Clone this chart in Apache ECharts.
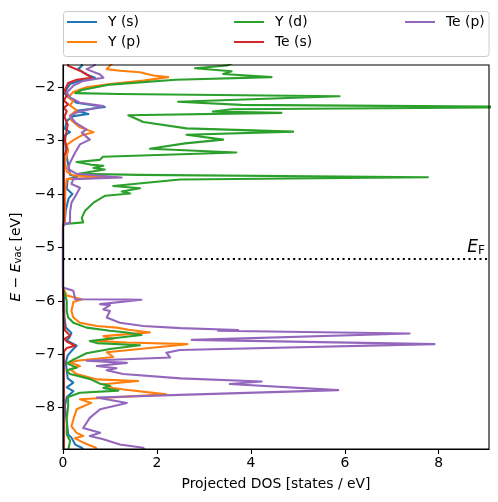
<!DOCTYPE html>
<html><head><meta charset="utf-8">
<script src="https://cdn.jsdelivr.net/npm/echarts@6/dist/echarts.min.js"></script>
<style>html,body{margin:0;padding:0;background:#fff}#c{width:498px;height:502px}</style>
</head><body><div id="c"></div>
<script>
const seriesNames = ['Y (s)', 'Y (p)', 'Y (d)', 'Te (s)', 'Te (p)'];
const xTicks = [0, 2, 4, 6, 8];
const yTicks = [-8, -7, -6, -5, -4, -3, -2];
const fermiLevel = -5.21;

// Y (s)
const ysE = [-1.55,-1.60,-1.66,-1.76,-1.82,-1.88,-1.94,-2.03,-2.12,-2.21,-2.29,-2.37,-2.44,-2.50,-2.54,-2.63,-2.78,-2.84,-2.90,-3.20,-3.40,-3.64,-3.68,-3.72,-3.90,-4.00,-4.08,-4.30,-4.56,-4.60,
  -5.75,-5.90,-6.30,-6.50,-6.60,-6.68,-6.74,-6.84,-6.92,-7.02,-7.15,-7.30,-7.45,-7.53,-7.62,-7.69,-7.80,-7.97,-8.25,-8.50,-8.56,-8.69,-8.75,-8.80];
const ysD = [0.40,0.40,0.32,0.50,0.68,0.36,0.15,0.08,0.04,0.15,0.29,0.89,0.29,0.54,0.22,0.08,0.04,0.15,0.04,0.06,0.10,0.15,0.30,0.10,0.08,0.20,0.12,0.06,0.03,0,
  0,0.02,0.03,0.06,0.18,0.14,0.08,0.29,0.20,0.10,0.06,0.08,0.10,0.22,0.08,0.22,0.08,0.04,0.08,0.11,0.18,0.26,0.40,0.45];

// Y (p)
const ypE = [-1.55,-1.594,-1.66,-1.69,-1.72,-1.78,-1.81,-1.875,-1.94,-2.00,-2.09,-2.19,-2.25,-2.34,-2.43,-2.53,-2.62,-2.75,-2.84,-2.90,-2.99,-3.08,-3.18,-3.40,-3.58,-3.65,-3.68,-3.72,-3.90,-4.30,-4.56,-4.60,
  -5.75,-5.90,-5.97,-6.02,-6.19,-6.31,-6.41,-6.47,-6.50,-6.54,-6.59,-6.66,-6.71,-6.75,-6.78,-6.81,-6.96,-7.05,-7.12,-7.16,-7.22,-7.28,-7.37,-7.47,-7.50,-7.56,-7.63,-7.66,-7.75,-7.84,-7.91,-8.03,-8.22,-8.35,-8.47,-8.53,-8.57,-8.62,-8.68,-8.75,-8.80];
const ypD = [1.05,1.00,0.93,1.21,1.64,1.92,2.24,1.71,1.00,0.50,0.22,0.11,0.22,0.15,0.29,0.15,0.18,0.36,0.65,0.40,0.22,0.08,0.11,0.04,0.08,0.22,1.00,0.08,0.05,0.04,0.03,0,
  0,0.08,0.40,0.22,0.18,0.22,0.36,0.72,1.14,1.40,1.85,0.86,1.07,0.72,1.36,2.65,0.93,1.07,0.29,0.15,0.36,0.15,0.29,0.72,1.60,0.86,1.07,1.30,2.20,0.36,0.60,0.29,0.22,0.18,0.29,0.43,0.25,0.36,0.50,0.70,0.72];

// Y (d)
const ydE = [-1.55,-1.594,-1.644,-1.70,-1.75,-1.81,-1.86,-1.95,-2.05,-2.11,-2.125,-2.168,-2.27,-2.33,-2.37,-2.41,-2.455,-2.48,-2.524,-2.65,-2.77,-2.83,-2.89,-2.98,-3.05,-3.15,-3.22,-3.30,-3.36,-3.40,-3.45,-3.47,-3.51,-3.54,-3.62,-3.64,-3.685,-3.727,-3.85,-3.89,-3.95,-3.99,-4.03,-4.16,-4.31,-4.44,-4.53,-4.56,-4.60,
  -5.75,-5.85,-6.00,-6.19,-6.31,-6.41,-6.50,-6.56,-6.59,-6.64,-6.75,-6.79,-6.83,-6.90,-6.98,-7.10,-7.17,-7.25,-7.30,-7.37,-7.46,-7.55,-7.59,-7.63,-7.68,-7.72,-7.80,-7.97,-8.20,-8.50,-8.62,-8.80];
const ydD = [3.60,3.49,2.81,3.59,3.41,4.44,2.40,1.00,0.40,0.26,1.20,5.89,2.45,3.80,10.5,3.60,3.19,4.65,1.39,1.71,2.63,4.90,2.63,3.41,2.60,1.85,3.69,0.85,0.78,0.29,0.61,0.86,0.65,0.89,0.33,1.60,7.77,2.49,1.07,1.64,1.25,1.43,0.90,0.65,0.47,0.40,0.43,0.04,0,
  0,0.03,0.08,0.08,0.11,0.22,0.50,1.00,1.36,1.67,0.57,0.72,1.64,1.00,0.50,0.22,0.08,0.29,0.08,0.15,0.57,0.79,1.00,0.86,1.18,0.36,0.11,0.11,0.08,0.08,0.15,0.11];

// Te (s)
const tsE = [-1.55,-1.60,-1.69,-1.76,-1.82,-1.86,-1.92,-2.05,-2.15,-2.25,-2.32,-2.38,-2.45,-2.55,-2.70,-3.00,-3.15,-3.30,-4.50,-4.60,
  -5.75,-6.40,-6.55,-6.65,-6.71,-6.76,-6.84,-6.88,-6.95,-7.20,-8.80];
const tsD = [0.11,0.11,0.36,0.50,0.61,0.29,0.11,0.04,0.08,0.02,0.11,0.02,0.08,0.03,0.10,0.04,0.08,0.02,0.02,0,
  0,0.02,0.04,0.15,0.03,0.08,0.26,0.08,0.02,0.02,0.02];

// Te (p)
const tpE = [-1.55,-1.60,-1.66,-1.76,-1.82,-1.88,-1.97,-2.10,-2.19,-2.29,-2.35,-2.41,-2.47,-2.54,-2.66,-2.79,-2.85,-2.98,-3.07,-3.22,-3.41,-3.53,-3.62,-3.69,-3.72,-3.81,-3.88,-4.00,-4.16,-4.34,-4.53,-4.56,-4.60,
  -5.75,-5.78,-5.81,-5.97,-5.975,-5.98,-6.06,-6.08,-6.16,-6.19,-6.31,-6.41,-6.47,-6.51,-6.545,-6.56,-6.61,-6.73,-6.81,-6.92,-6.97,-7.06,-7.12,-7.16,-7.22,-7.26,-7.30,-7.37,-7.45,-7.51,-7.556,-7.67,-7.76,-7.81,-7.91,-8.03,-8.19,-8.38,-8.47,-8.53,-8.59,-8.69,-8.75,-8.80];
const tpD = [0.70,0.65,0.50,0.79,0.86,0.43,0.22,0.08,0.15,0.36,0.86,0.57,0.29,0.15,0.26,0.50,0.40,0.57,0.36,0.26,0.15,0.11,0.29,1.25,0.22,0.18,0.36,0.29,0.18,0.15,0.15,0.04,0,
  0,0.04,0.22,0.26,1.28,1.67,0.79,1.00,0.86,1.00,0.93,1.21,1.71,2.50,3.73,3.30,7.38,2.74,7.91,2.49,2.20,2.28,0.50,1.36,0.72,1.14,0.93,1.28,2.50,4.23,3.55,5.86,2.49,0.72,1.36,0.79,0.57,0.43,0.79,0.57,0.86,1.21,1.71,1.75];

const colors = ['#1f77b4', '#ff7f0e', '#2ca02c', '#d62728', '#9467bd'];
const FONT = 'DejaVu Sans';
const LW = 2.08;

function zip(dos, en) {
  const n = Math.min(dos.length, en.length);
  const out = [];
  for (let i = 0; i < n; i++) out.push([dos[i], en[i]]);
  return out;
}
const allData = [zip(ysD, ysE), zip(ypD, ypE), zip(ydD, ydE), zip(tsD, tsE), zip(tpD, tpE)];

const minus = v => String(v).replace('-', '\u2212');

const series = seriesNames.map((name, i) => ({
  name: name,
  type: 'line',
  data: allData[i],
  showSymbol: false,
  symbol: 'none',
  smooth: false,
  clip: true,
  lineStyle: { width: LW, color: colors[i], join: 'round', cap: 'butt' },
  itemStyle: { color: colors[i] },
  emphasis: { disabled: true },
  z: 2 + i
}));
series[4].markLine = {
  silent: true,
  symbol: ['none', 'none'],
  lineStyle: { color: '#000', type: [2.08, 3.4], width: LW },
  label: {
    show: true,
    position: 'insideEndTop',
    distance: [4, 2],
    formatter: '{e|E}{f|F}',
    rich: {
      e: { fontFamily: FONT, fontStyle: 'italic', fontSize: 17, color: '#000' },
      f: { fontFamily: FONT, fontSize: 12, color: '#000', verticalAlign: 'bottom', padding: [6, 0, 0, 0] }
    }
  },
  data: [{ yAxis: fermiLevel }]
};

const legendCols = [['Y (s)', 'Y (p)'], ['Y (d)', 'Te (s)'], ['Te (p)']];
const legendLeft = [67, 234, 405];
const legends = legendCols.map((d, i) => ({
  data: d,
  orient: 'vertical',
  left: legendLeft[i],
  top: 14,
  padding: 0,
  itemGap: 4,
  itemWidth: 30,
  itemHeight: 2,
  icon: 'rect',
  selectedMode: false,
  textStyle: { fontFamily: FONT, fontSize: 13.9, color: '#000', lineHeight: 16, padding: [0, 0, 0, 6] }
}));

const chart = echarts.init(document.getElementById('c'), null, { renderer: 'canvas' });
chart.setOption({
  animation: false,
  backgroundColor: '#fff',
  color: colors,
  grid: { left: 63, right: 9, top: 65, bottom: 53, show: true, borderColor: '#000', borderWidth: 1.1, z: 10 },
  legend: legends,
  graphic: [{
    type: 'rect', z: 0, left: 63, top: 11,
    shape: { width: 425.5, height: 45, r: 3 },
    style: { fill: 'rgba(255,255,255,0.8)', stroke: '#cccccc', lineWidth: 1 }
  }],
  xAxis: {
    type: 'value', min: 0, max: 9.07,
    name: 'Projected DOS [states / eV]',
    nameLocation: 'middle', nameGap: 28,
    nameTextStyle: { fontFamily: FONT, fontSize: 13.9, color: '#000' },
    axisLine: { show: true, onZero: false, lineStyle: { color: '#000', width: 1.1 } },
    axisTick: { show: true, inside: false, length: 5, customValues: xTicks, lineStyle: { color: '#000', width: 1.1 } },
    axisLabel: { customValues: xTicks, margin: 7, fontFamily: FONT, fontSize: 13.9, color: '#000' },
    splitLine: { show: false },
    z: 10
  },
  yAxis: {
    type: 'value', min: -8.773, max: -1.583,
    name: '{i|E} \u2212 {i|E}{s|vac} [eV]',
    nameLocation: 'middle', nameGap: 38, nameRotate: 90,
    nameTextStyle: {
      fontFamily: FONT, fontSize: 13.9, color: '#000',
      rich: {
        i: { fontFamily: FONT, fontStyle: 'italic', fontSize: 13.9, color: '#000' },
        s: { fontFamily: FONT, fontSize: 10, color: '#000', verticalAlign: 'bottom', padding: [5, 0, 0, 0] }
      }
    },
    axisLine: { show: true, onZero: false, lineStyle: { color: '#000', width: 1.1 } },
    axisTick: { show: true, inside: false, length: 5, customValues: yTicks, lineStyle: { color: '#000', width: 1.1 } },
    axisLabel: { customValues: yTicks, margin: 8, fontFamily: FONT, fontSize: 13.9, color: '#000', formatter: minus },
    splitLine: { show: false },
    z: 10
  },
  series: series
});
</script>
</body></html>
